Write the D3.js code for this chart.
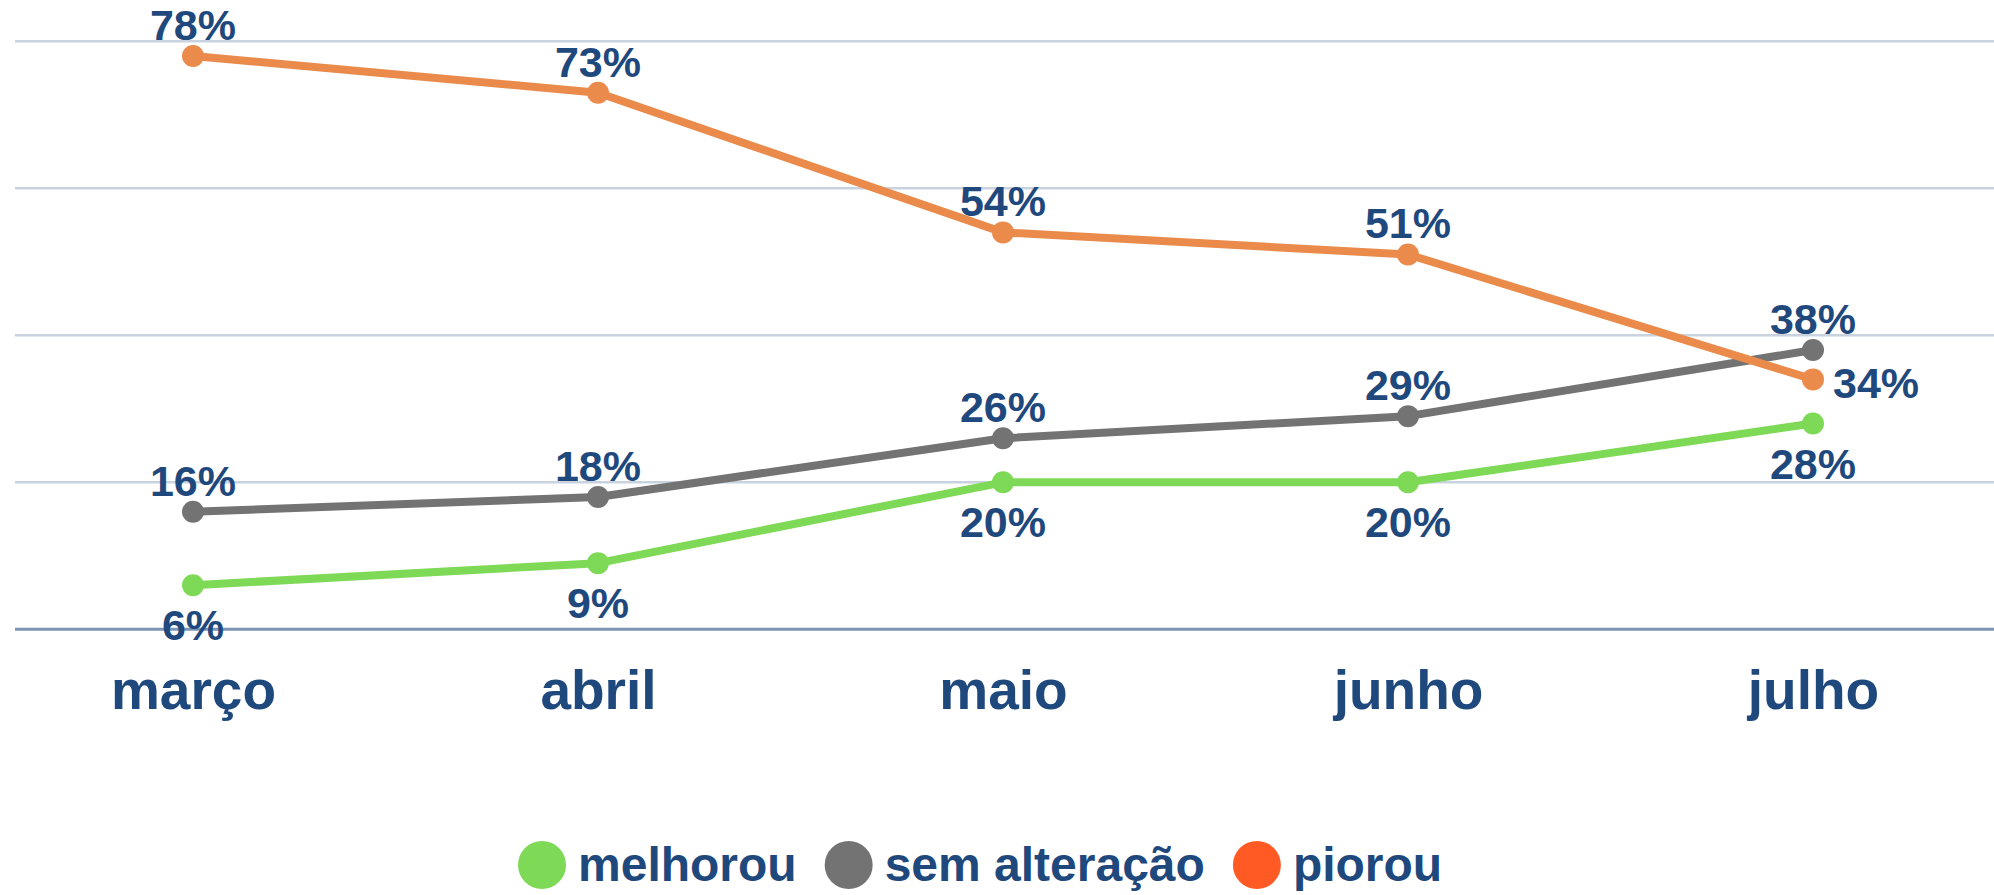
<!DOCTYPE html>
<html>
<head>
<meta charset="utf-8">
<script src="https://cdn.jsdelivr.net/npm/d3@7"></script>
<style>
html,body{margin:0;padding:0;background:#fff;}
svg{display:block;}
text{font-family:"Liberation Sans",Arial,sans-serif;font-weight:bold;fill:#1F497D;}
</style>
</head>
<body>
<svg id="chart" width="1994" height="895"></svg>
<script>
// ---- data ----
const months = ["março", "abril", "maio", "junho", "julho"];
const seriesNames = ["melhorou", "sem alteração", "piorou"];
const melhorou = [6, 9, 20, 20, 28];
const semAlteracao = [16, 18, 26, 29, 38];
const piorou = [78, 73, 54, 51, 34];
const gridTicks = [0, 20, 40, 60, 80];
// label placement per series and point
const melhorouPlace = ["below", "below", "below", "below", "below"];
const semAlteracaoPlace = ["above", "above", "above", "above", "above"];
const piorouPlace = ["above", "above", "above", "above", "right"];

// ---- styles ----
const lineColors = ["#7ED957", "#737373", "#EB8B4B"];
const legendColors = ["#7ED957", "#737373", "#FF5A24"];

const series = [
  {name: seriesNames[0], values: melhorou, place: melhorouPlace, color: lineColors[0], legend: legendColors[0]},
  {name: seriesNames[1], values: semAlteracao, place: semAlteracaoPlace, color: lineColors[1], legend: legendColors[1]},
  {name: seriesNames[2], values: piorou, place: piorouPlace, color: lineColors[2], legend: legendColors[2]}
];

const svg = d3.select("#chart");

const x = d3.scalePoint().domain(months).range([193, 1813]);
const y = d3.scaleLinear().domain([0, 100]).range([629.3, -105.7]);

// gridlines
svg.append("g").selectAll("line").data(gridTicks).join("line")
  .attr("x1", 15).attr("x2", 1994)
  .attr("y1", d => y(d)).attr("y2", d => y(d))
  .attr("stroke", d => d === 0 ? "#7B95B5" : "#C9D3E0")
  .attr("stroke-width", d => d === 0 ? 3 : 2.5);

// x axis labels
const xAxis = d3.axisBottom(x).tickSize(0).tickPadding(0);
const gx = svg.append("g").attr("transform", `translate(0,${y(0)})`).call(xAxis);
gx.select(".domain").remove();
gx.selectAll("text")
  .attr("dy", null).attr("y", 80)
  .style("font-size", "55px")
  .style("font-family", "'Liberation Sans', Arial, sans-serif")
  .style("font-weight", "bold")
  .attr("fill", "#1F497D");

// lines + dots
const line = d3.line().x((d, i) => x(months[i])).y(d => y(d));
const gLines = svg.append("g");
series.forEach(s => {
  const g = gLines.append("g");
  g.append("path").datum(s.values)
    .attr("d", line).attr("fill", "none")
    .attr("stroke", s.color).attr("stroke-width", 8)
    .attr("stroke-linejoin", "round");
  g.selectAll("circle").data(s.values).join("circle")
    .attr("cx", (d, i) => x(months[i])).attr("cy", d => y(d))
    .attr("r", 11).attr("fill", s.color);
});

// data labels
const gLabels = svg.append("g");
series.forEach(s => {
  gLabels.selectAll(null).data(s.values).join("text")
    .attr("x", (d, i) => s.place[i] === "right" ? x(months[i]) + 20 : x(months[i]))
    .attr("y", (d, i) => {
      const p = s.place[i];
      if (p === "above") return y(d) - 16;
      if (p === "below") return y(d) + 55;
      return y(d) + 19;
    })
    .attr("text-anchor", (d, i) => s.place[i] === "right" ? "start" : "middle")
    .style("font-size", "43px")
    .text(d => d + "%");
});

// legend
const legend = svg.append("g");
let lx = 518;
const ly = 865;
series.forEach(s => {
  legend.append("circle").attr("cx", lx + 24).attr("cy", ly).attr("r", 24).attr("fill", s.legend);
  const t = legend.append("text").attr("x", lx + 48 + 12).attr("y", ly + 16)
    .style("font-size", "48px").text(s.name);
  const w = t.node().getComputedTextLength();
  lx = lx + 48 + 12 + w + 28;
});
</script>
</body>
</html>
